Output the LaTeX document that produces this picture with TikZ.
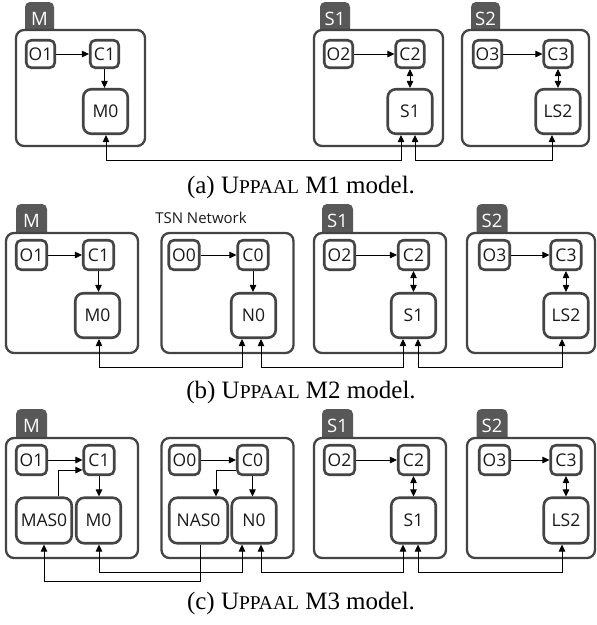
\documentclass[tikz,border=0pt]{standalone}
\usepackage{fontspec}
\setmainfont{Liberation Serif}
\newfontfamily\labelfont{Open Sans}
\usetikzlibrary{arrows.meta}
\definecolor{bordergray}{HTML}{444444}
\definecolor{tabgray}{HTML}{585858}
\definecolor{labeltext}{HTML}{1A1A1A}
\newcommand\fsc[1]{{\fontsize{19.5}{20}\selectfont #1}}
\tikzset{
  box/.style={draw=bordergray, line width=2.6pt, rounded corners=5pt, fill=white, inner sep=0pt,
    text=labeltext, font=\labelfont\fontsize{17.5}{19}\selectfont},
  smA/.style={box, minimum width=28.5, minimum height=27.5},
  bgA/.style={box, rounded corners=8pt, minimum width=44.5, minimum height=44.5},
  sm/.style={box, minimum width=30.5, minimum height=29.5},
  bg/.style={box, rounded corners=8pt, minimum width=44.5, minimum height=44.5},
  bgc/.style={box, rounded corners=8pt, minimum width=44.5, minimum height=45.5},
  frame/.style={draw=bordergray, line width=2.3pt, rounded corners=8pt, fill=white, inner sep=0pt},
  tab/.style={fill=tabgray, rounded corners=5pt, inner sep=0pt, minimum width=29, minimum height=34,
    text=white, font=\labelfont\fontsize{18.5}{20}\selectfont},
  link/.style={line width=0.9pt, draw=black, -{Triangle[length=7pt,width=6.5pt]}},
  dlink/.style={line width=0.9pt, draw=black, {Triangle[length=7pt,width=6.5pt]}-{Triangle[length=7pt,width=6.5pt]}},
  caption/.style={inner sep=0pt, font=\fontsize{25}{28}\selectfont},
  netlabel/.style={inner sep=0pt, text=labeltext, font=\labelfont\fontsize{15}{16}\selectfont}
}
\begin{document}
\begin{tikzpicture}[x=1pt,y=-1pt]
\useasboundingbox (0,0) rectangle (597,625);

% ---------------- row (a) ----------------
\node[tab] (tMa) at (39.5,19) {M};
\node[tab, minimum width=30] (tS1a) at (335,19) {S1};
\node[tab] (tS2a) at (485.5,19) {S2};
\node[frame, minimum width=129, minimum height=116] (Ma) at (80.5,88) {};
\node[frame, minimum width=129, minimum height=116] (S1a) at (378.5,88) {};
\node[frame, minimum width=127, minimum height=116] (S2a) at (525.5,88) {};

\node[smA] (O1a) at (40.5,54) {O1};
\node[smA] (C1a) at (104.5,54) {C1};
\node[bgA] (M0a) at (105.5,111.5) {M0};
\node[smA] (O2a) at (338.5,54) {O2};
\node[smA] (C2a) at (410,54) {C2};
\node[bgA] (S1na) at (410,111.5) {S1};
\node[smA] (O3a) at (487.5,54) {O3};
\node[smA] (C3a) at (558,54) {C3};
\node[bgA] (LS2a) at (558,111.5) {LS2};

\draw[link] (O1a.east) -- (C1a.west);
\draw[link] (C1a.south) -- (C1a.south |- M0a.north);
\draw[link] (O2a.east) -- (C2a.west);
\draw[dlink] (C2a.south) -- (S1na.north);
\draw[link] (O3a.east) -- (C3a.west);
\draw[dlink] (C3a.south) -- (LS2a.north);
\draw[dlink] ([xshift=0.5pt]M0a.south) -- ++(0,25) -| ([xshift=-9pt]S1na.south);
\draw[dlink] ([xshift=5pt]S1na.south) -- ++(0,25) -| ([xshift=-6pt]LS2a.south);

\node[caption] (capa) at (301,187) {(a) U\fsc{PPAAL} M1 model.};

% ---------------- row (b) ----------------
\node[tab, minimum width=31] (tMb) at (31.5,221) {M};
\node[tab, minimum width=31] (tS1b) at (337.5,221) {S1};
\node[tab, minimum width=31] (tS2b) at (492,221) {S2};
\node[netlabel] (tsnb) at (201,218) {TSN Network};
\node[frame, minimum width=132, minimum height=120] (Mb) at (72,293) {};
\node[frame, minimum width=132, minimum height=120] (Nb) at (227.5,293) {};
\node[frame, minimum width=132, minimum height=120] (S1b) at (380,293) {};
\node[frame, minimum width=128, minimum height=120] (S2b) at (531,293) {};

\node[sm] (O1b) at (31.5,255) {O1};
\node[sm] (C1b) at (98.5,255) {C1};
\node[bg] (M0b) at (97.5,315.5) {M0};
\node[sm] (O0b) at (184,255) {O0};
\node[sm] (C0b) at (253,255) {C0};
\node[bg] (N0b) at (253.5,315.5) {N0};
\node[sm] (O2b) at (339.5,255) {O2};
\node[sm] (C2b) at (413.5,255) {C2};
\node[bg] (S1nb) at (413.5,315.5) {S1};
\node[sm] (O3b) at (494.5,255) {O3};
\node[sm] (C3b) at (566,255) {C3};
\node[bg] (LS2b) at (566,315.5) {LS2};

\draw[link] (O1b.east) -- (C1b.west);
\draw[link] (C1b.south) -- (C1b.south |- M0b.north);
\draw[link] (O0b.east) -- (C0b.west);
\draw[link] (C0b.south) -- (C0b.south |- N0b.north);
\draw[link] (O2b.east) -- (C2b.west);
\draw[dlink] (C2b.south) -- (S1nb.north);
\draw[link] (O3b.east) -- (C3b.west);
\draw[dlink] (C3b.south) -- (LS2b.north);
\draw[dlink] ([xshift=1.5pt]M0b.south) -- ++(0,28) -| ([xshift=-11.5pt]N0b.south);
\draw[dlink] ([xshift=7.5pt]N0b.south) -- ++(0,28) -| ([xshift=-10.5pt]S1nb.south);
\draw[dlink] ([xshift=4.5pt]S1nb.south) -- ++(0,28) -| ([xshift=-4pt]LS2b.south);

\node[caption] (capb) at (301,392) {(b) U\fsc{PPAAL} M2 model.};

% ---------------- row (c) ----------------
\node[tab, minimum width=31] (tMc) at (31.5,426) {M};
\node[tab, minimum width=31] (tS1c) at (337.5,426) {S1};
\node[tab, minimum width=31] (tS2c) at (492,426) {S2};
\node[frame, minimum width=132, minimum height=120] (Mc) at (72,498) {};
\node[frame, minimum width=132, minimum height=120] (Nc) at (227.5,498) {};
\node[frame, minimum width=132, minimum height=120] (S1c) at (380,498) {};
\node[frame, minimum width=128, minimum height=120] (S2c) at (531,498) {};

\node[sm] (O1c) at (31.5,460) {O1};
\node[sm] (C1c) at (99,460) {C1};
\node[bgc, minimum width=55.5] (MAS0c) at (44,520.5) {MAS0};
\node[bgc] (M0c) at (98.5,520.5) {M0};
\node[sm] (O0c) at (184.5,460) {O0};
\node[sm] (C0c) at (252.5,460) {C0};
\node[bgc, minimum width=58.5] (NAS0c) at (198.5,520.5) {NAS0};
\node[bgc] (N0c) at (254,520.5) {N0};
\node[sm] (O2c) at (339.5,460) {O2};
\node[sm] (C2c) at (413.5,460) {C2};
\node[bgc] (S1nc) at (413.5,520.5) {S1};
\node[sm] (O3c) at (494.5,460) {O3};
\node[sm] (C3c) at (566,460) {C3};
\node[bgc] (LS2c) at (566,520.5) {LS2};

\draw[link] (O1c.east) -- (C1c.west);
\draw[link] ([xshift=14pt]MAS0c.north) |- ([yshift=-10pt]C1c.west);
\draw[link] (C1c.south) -- (C1c.south |- M0c.north);
\draw[link] (O0c.east) -- (C0c.west);
\draw[link] ([yshift=-10pt]C0c.west) -| ([xshift=17.5pt]NAS0c.north);
\draw[link] (C0c.south) -- (C0c.south |- N0c.north);
\draw[link] (O2c.east) -- (C2c.west);
\draw[dlink] (C2c.south) -- (S1nc.north);
\draw[link] (O3c.east) -- (C3c.west);
\draw[dlink] (C3c.south) -- (LS2c.north);
\draw[link] ([xshift=1.5pt]NAS0c.south) -- ++(0,37) -| (MAS0c.south);
\draw[dlink] ([xshift=0.5pt]M0c.south) -- ++(0,28) -| ([xshift=-12pt]N0c.south);
\draw[dlink] ([xshift=7pt]N0c.south) -- ++(0,28) -| ([xshift=-10.5pt]S1nc.south);
\draw[dlink] ([xshift=4.5pt]S1nc.south) -- ++(0,28) -| ([xshift=-4pt]LS2c.south);

\node[caption] (capc) at (301,603) {(c) U\fsc{PPAAL} M3 model.};
\end{tikzpicture}
\end{document}
